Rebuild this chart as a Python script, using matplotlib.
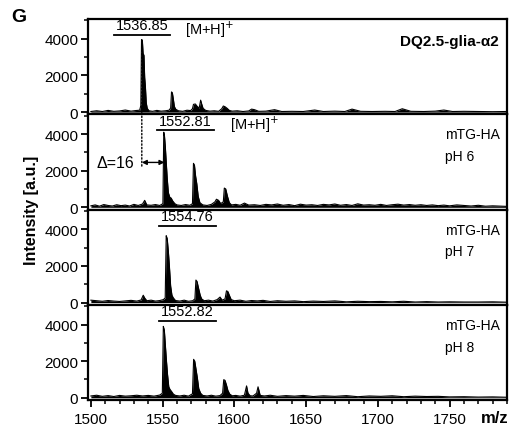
import matplotlib
matplotlib.use("Agg")
import matplotlib.pyplot as plt
from matplotlib.patches import ConnectionPatch
from matplotlib.ticker import MultipleLocator

plt.rcParams['font.family'] = ['Liberation Sans', 'DejaVu Sans']

# ---------------- data ----------------
mz1 = [1500, 1504, 1508, 1512, 1516, 1520, 1524, 1528, 1531, 1534, 1534.8, 1535.3, 1535.9, 1536.4, 1537.0,
       1537.5, 1538.0, 1538.6, 1539.3, 1540.5, 1543, 1546, 1549, 1552, 1554.5, 1555.6, 1556.2, 1556.8, 1557.5,
       1558.2, 1559.2, 1561, 1564, 1567, 1569.5, 1570.8, 1571.5, 1572.8, 1574.2, 1575.5, 1576.5, 1577.2, 1578.2,
       1580, 1583, 1586, 1589, 1591.2, 1592.3, 1593.5, 1595, 1596.5, 1598.5, 1602, 1606, 1610, 1612, 1614, 1617,
       1622, 1628, 1633, 1640, 1648, 1656, 1662, 1670, 1677, 1682, 1688, 1696, 1705, 1712, 1717, 1723, 1732,
       1740, 1746, 1752, 1760, 1770, 1780, 1790]
int1 = [30, 70, 30, 90, 40, 60, 110, 50, 80, 100, 350, 3950, 3900, 3200, 3100,
        1900, 1400, 500, 200, 70, 40, 90, 50, 70, 100, 220, 1100, 1050, 700,
        300, 150, 70, 40, 100, 80, 180, 420, 440, 300, 220, 650, 450, 200,
        90, 50, 70, 40, 180, 330, 290, 200, 90, 50, 70, 30, 60, 160, 130, 40,
        50, 130, 30, 40, 30, 110, 30, 50, 30, 160, 40, 30, 40, 30, 180, 40, 30,
        50, 110, 30, 40, 30, 20, 30]

mz2 = [1500, 1503, 1506, 1509, 1512, 1515, 1518, 1521, 1524, 1527, 1530, 1533, 1536, 1537.5, 1539, 1542,
       1545, 1548, 1550.2, 1550.8, 1551.3, 1551.9, 1552.5, 1553.2, 1554.0, 1555.0, 1556.0, 1557.0, 1558.5,
       1560, 1563, 1566, 1569, 1570.8, 1571.5, 1572.2, 1573.0, 1573.8, 1574.8, 1576, 1578, 1581, 1584,
       1586.5, 1587.5, 1589, 1590.5, 1592.3, 1593.0, 1594.0, 1595.2, 1596.5, 1598, 1601, 1604, 1607, 1610,
       1614, 1618, 1622, 1626, 1630, 1634, 1638, 1642, 1646, 1650, 1654, 1658, 1662, 1666, 1670, 1674,
       1678, 1682, 1686, 1690, 1694, 1698, 1702, 1706, 1710, 1714, 1718, 1722, 1726, 1730, 1734, 1738,
       1742, 1746, 1750, 1755, 1760, 1765, 1770, 1775, 1780, 1790]
int2 = [80, 130, 60, 150, 100, 70, 140, 90, 120, 70, 160, 100, 180, 380, 130, 110,
        150, 100, 200, 4100, 3900, 3300, 2500, 1600, 800, 550, 500, 350, 200,
        130, 100, 150, 110, 200, 2400, 2300, 1700, 1300, 600, 250, 130, 100, 160,
        300, 440, 380, 200, 300, 1050, 1000, 600, 250, 130, 160, 110, 230, 120,
        140, 100, 160, 130, 180, 110, 150, 90, 170, 120, 140, 100, 160, 130, 180, 110,
        150, 100, 190, 120, 140, 110, 160, 100, 140, 170, 120, 150, 110, 140, 100, 130,
        90, 120, 80, 130, 100, 70, 110, 60, 80, 50]

mz3 = [1500, 1504, 1508, 1512, 1516, 1520, 1524, 1528, 1532, 1535, 1536.5, 1537.5, 1539, 1542, 1545, 1548,
       1550.5, 1551.8, 1552.5, 1553.2, 1554.0, 1554.8, 1555.6, 1556.5, 1557.5, 1559, 1562, 1565, 1568, 1571,
       1572.5, 1573.2, 1574.0, 1575.0, 1576.2, 1577.2, 1579, 1582, 1585, 1588, 1590, 1591.5, 1593.5, 1594.5,
       1595.5, 1596.5, 1597.8, 1600, 1604, 1608, 1612, 1616, 1620, 1625, 1630, 1636, 1642, 1648, 1655, 1662,
       1670, 1678, 1686, 1694, 1702, 1710, 1718, 1726, 1734, 1742, 1750, 1760, 1770, 1780, 1790]
int3 = [130, 100, 70, 110, 80, 60, 90, 120, 80, 140, 400, 250, 100, 130, 80, 110,
        160, 250, 3650, 3500, 2800, 1900, 900, 400, 250, 110, 80, 130, 70, 100,
        200, 1230, 1150, 800, 400, 200, 100, 130, 80, 160, 300, 130, 200, 640,
        600, 400, 160, 100, 130, 70, 110, 90, 120, 60, 100, 70, 90, 50, 80, 60,
        90, 40, 70, 50, 60, 40, 70, 30, 50, 30, 40, 30, 30, 40, 20]

mz4 = [1500, 1504, 1508, 1512, 1516, 1520, 1524, 1528, 1532, 1536, 1540, 1544, 1548, 1549.8, 1550.5, 1551.2,
       1551.9, 1552.6, 1553.4, 1554.3, 1555.2, 1556.2, 1557.5, 1559, 1562, 1565, 1568, 1570.8, 1571.6, 1572.4,
       1573.2, 1574.2, 1575.2, 1576.5, 1578, 1581, 1584, 1587, 1590, 1591.8, 1592.6, 1593.5, 1594.5, 1595.5,
       1596.8, 1598.5, 1601, 1604, 1607, 1608.5, 1609.5, 1611, 1613, 1615.5, 1616.5, 1618, 1621, 1625, 1630,
       1636, 1642, 1648, 1655, 1662, 1670, 1678, 1686, 1694, 1702, 1710, 1718, 1726, 1734, 1742, 1750, 1760,
       1770, 1780, 1790]
int4 = [100, 140, 80, 120, 70, 130, 90, 110, 140, 100, 130, 90, 150, 250, 3900, 3700,
        2900, 2100, 1300, 600, 450, 350, 200, 130, 100, 140, 90, 220, 2100, 2000,
        1600, 1100, 500, 250, 130, 100, 140, 90, 120, 250, 990, 950, 700, 400,
        200, 110, 130, 90, 140, 650, 250, 110, 100, 250, 600, 130, 100, 140, 80,
        120, 90, 130, 70, 110, 80, 120, 60, 100, 80, 110, 60, 90, 70, 80, 50, 60,
        40, 50, 30]

peak_labels = ["1536.85", "1552.81", "1554.76", "1552.82"]
peak_label_x = [1535.5, 1565.8, 1567.0, 1567.0]
bar_ranges = [(1516, 1555), (1546, 1585.6), (1547.4, 1587), (1547.4, 1587)]
right_labels = [None, ("mTG-HA", "pH 6"), ("mTG-HA", "pH 7"), ("mTG-HA", "pH 8")]
spectra = [(mz1, int1), (mz2, int2), (mz3, int3), (mz4, int4)]
yticks = [0, 2000, 4000]
xticks = [1500, 1550, 1600, 1650, 1700, 1750]

for m, i in spectra:
    assert len(m) == len(i), (len(m), len(i))

# ---------------- figure ----------------
fig = plt.figure(figsize=(5.16, 4.31), dpi=100)
left, right, top, bottom = 88 / 516, 507 / 516, 1 - 20 / 431, 1 - 401 / 431
h = (top - bottom) / 4
axes = []
for k in range(4):
    ax = fig.add_axes([left, top - (k + 1) * h, right - left, h])
    axes.append(ax)

for k, ax in enumerate(axes):
    m, inten = spectra[k]
    ax.fill_between(m, 0, inten, color='black', linewidth=0)
    ax.plot(m, inten, color='black', lw=0.8)
    ax.set_xlim(1498, 1790)
    ax.set_ylim(-120, 5080)
    ax.set_yticks(yticks)
    ax.yaxis.set_minor_locator(MultipleLocator(1000))
    ax.set_xticks(xticks)
    ax.xaxis.set_minor_locator(MultipleLocator(10))
    for s in ax.spines.values():
        s.set_linewidth(1.6)
    ax.tick_params(axis='y', which='major', direction='out', length=5, width=1.3, labelsize=11, pad=2)
    ax.tick_params(axis='y', which='minor', direction='out', length=3, width=1.1)
    if k < 3:
        ax.tick_params(axis='x', which='both', bottom=False, labelbottom=False)
    else:
        ax.tick_params(axis='x', which='major', direction='out', length=5, width=1.3, labelsize=11, pad=4)
        ax.tick_params(axis='x', which='minor', direction='out', length=3, width=1.1)

    # peak label with bar
    x0, x1 = bar_ranges[k]
    ax.plot([x0, x1], [4200, 4200], color='black', lw=1.3, clip_on=False)
    ax.text(peak_label_x[k], 4350, peak_labels[k], ha='center', va='bottom', fontsize=10.5)

    if right_labels[k] is not None:
        ax.text(0.852, 0.79, right_labels[k][0], transform=ax.transAxes, ha='left', va='center', fontsize=10)
        ax.text(0.852, 0.56, right_labels[k][1], transform=ax.transAxes, ha='left', va='center', fontsize=10)

axes[0].text(1565.5, 4550, "[M+H]$^{+}$", ha='left', va='center', fontsize=10.5)
axes[1].text(1596.8, 4550, "[M+H]$^{+}$", ha='left', va='center', fontsize=10.5)
axes[0].text(0.981, 0.77, "DQ2.5-glia-α2", transform=axes[0].transAxes, ha='right', va='center',
             fontsize=11, fontweight='bold')

# dotted line between panels 1 and 2
con = ConnectionPatch(xyA=(1535.5, 3950), coordsA=axes[0].transData,
                      xyB=(1535.5, 2250), coordsB=axes[1].transData,
                      linestyle=(0, (1, 1.5)), color='black', lw=1.0)
fig.add_artist(con)
axes[1].annotate("", xy=(1551.3, 2450), xytext=(1535.5, 2450),
                 arrowprops=dict(arrowstyle='<|-|>', color='black', lw=1.0,
                                 shrinkA=0, shrinkB=0, mutation_scale=7))
axes[1].text(1530.5, 2450, "Δ=16", ha='right', va='center', fontsize=11.5)

fig.text(0.022, 0.98, "G", fontsize=14, fontweight='bold', ha='left', va='top')
fig.text(0.062, (top + bottom) / 2, "Intensity [a.u.]", rotation=90, fontsize=11.5,
         fontweight='bold', ha='center', va='center')
fig.text(0.958, 0.012, "m/z", fontsize=12, fontweight='bold', ha='center', va='bottom')

fig.savefig("out.png", dpi=100)
